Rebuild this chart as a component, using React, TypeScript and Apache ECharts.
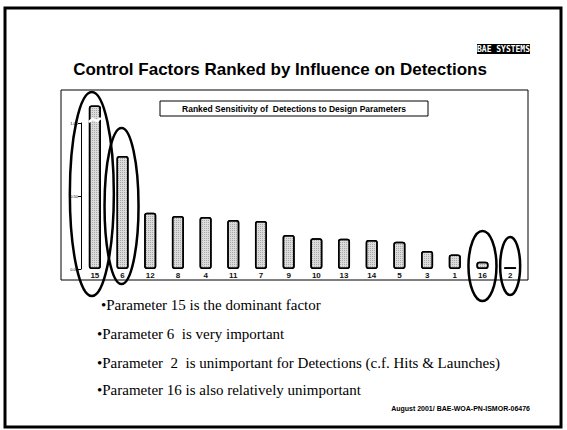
import React, { useEffect, useRef } from "react";
import * as echarts from "echarts";

const categories = ["15", "6", "12", "8", "4", "11", "7", "9", "10", "13", "14", "5", "3", "1", "16", "2"];
const sensitivity = [1.12, 0.774, 0.386, 0.363, 0.356, 0.336, 0.329, 0.233, 0.21, 0.208, 0.199, 0.187, 0.123, 0.1, 0.05, 0.012];
const yTicks = [0, 0.5, 1.0];
const circled = ["15", "6", "16", "2"];
const bullets = [
  "•Parameter 15 is the dominant factor",
  "•Parameter 6  is very important",
  "•Parameter  2  is unimportant for Detections (c.f. Hits & Launches)",
  "•Parameter 16 is also relatively unimportant",
];
const slideTitle = "Control Factors Ranked by Influence on Detections";
const chartTitle = "Ranked Sensitivity of  Detections to Design Parameters";
const footer = "August 2001/ BAE-WOA-PN-ISMOR-06476";
const logoText = "BAE SYSTEMS";

export default function App() {
  const ref = useRef<HTMLDivElement>(null);
  useEffect(() => {
    document.body.style.margin = "0";
    const chart = echarts.init(ref.current!, null, { renderer: "svg" });
    chart.setOption({
      animation: false,
      grid: { left: 81, right: 43, top: 123, bottom: 161 },
      xAxis: {
        type: "category",
        data: categories,
        axisLine: { show: false },
        axisTick: { show: false },
        axisLabel: { margin: 2, fontSize: 8, fontWeight: "bold", color: "#111", fontFamily: "Liberation Sans" },
      },
      yAxis: {
        type: "value",
        min: yTicks[0],
        max: yTicks[yTicks.length - 1],
        interval: 0.5,
        axisLine: { show: true, lineStyle: { color: "#000", width: 1 } },
        axisTick: { show: true, inside: false, length: 3, lineStyle: { color: "#000" } },
        splitLine: { show: false },
        axisLabel: { fontSize: 4, margin: 3, color: "#000", formatter: (v: number) => v.toFixed(2) },
      },
      series: [
        {
          type: "bar",
          data: sensitivity,
          barWidth: 12,
          clip: false,
          itemStyle: {
            color: "#dcdcdc",
            borderColor: "#000",
            borderWidth: 1.5,
            borderRadius: 2,
            decal: {
              symbol: "rect",
              symbolSize: 1,
              dashArrayX: [1, 1],
              dashArrayY: [1, 1],
              color: "rgba(70,70,70,0.35)",
              backgroundColor: "#ececec",
            },
          },
        },
      ],
    });

    const px = (c: string) => chart.convertToPixel({ xAxisIndex: 0 }, c) as number;
    const py = (v: number) => chart.convertToPixel({ yAxisIndex: 0 }, v) as number;
    const ellSpec: Record<string, { dx: number; cy: number; rx: number; ry: number }> = {
      "15": { dx: -3, cy: 194, rx: 22, ry: 102 },
      "6": { dx: -1, cy: 206, rx: 17, ry: 78 },
      "16": { dx: 0, cy: 266, rx: 14, ry: 35 },
      "2": { dx: 0, cy: 266, rx: 10, ry: 29 },
    };
    const ellipses = circled.map((c) => ({
      type: "ellipse",
      shape: { cx: px(c) + ellSpec[c].dx, cy: ellSpec[c].cy, rx: ellSpec[c].rx, ry: ellSpec[c].ry },
      style: { fill: "none", stroke: "#000", lineWidth: 2.5 },
      z: 100,
    }));
    const bx = px("15");
    const by = py(1.0) - 3;
    const breakMark = {
      type: "polyline",
      shape: { points: [[bx - 6, by + 2], [bx - 2, by - 1], [bx + 2, by + 1], [bx + 6, by - 2]] },
      style: { stroke: "#fff", lineWidth: 2.5, fill: "none" },
      z: 90,
    };

    chart.setOption({
      graphic: [
        { type: "rect", shape: { x: 5, y: 8, width: 556, height: 419 }, style: { fill: "none", stroke: "#000", lineWidth: 3 } },
        { type: "rect", shape: { x: 61, y: 90, width: 467, height: 190 }, style: { fill: "none", stroke: "#000", lineWidth: 1 }, z: 50 },
        { type: "rect", shape: { x: 160, y: 101, width: 268, height: 15 }, style: { fill: "#fff", stroke: "#000", lineWidth: 1 } },
        { type: "text", x: 294, y: 108.5, style: { text: chartTitle, font: "bold 8.5px 'Liberation Sans'", fill: "#000", align: "center", verticalAlign: "middle" } },
        { type: "text", x: 280, y: 69, style: { text: slideTitle, font: "bold 17px 'Liberation Sans'", fill: "#000", align: "center", verticalAlign: "middle" } },
        { type: "rect", shape: { x: 477, y: 44, width: 53, height: 10 }, style: { fill: "#000" } },
        { type: "text", x: 503.5, y: 49, style: { text: logoText, font: "bold 8px 'DejaVu Sans Mono'", fill: "#fff", align: "center", verticalAlign: "middle" } },
        ...bullets.map((b, i) => ({
          type: "text",
          x: i === 0 ? 101 : 97,
          y: [305, 334, 363, 390][i],
          style: { text: b, font: "15px 'Liberation Serif'", fill: "#000", verticalAlign: "middle" },
        })),
        { type: "text", x: 530, y: 408, style: { text: footer, font: "bold 7px 'Liberation Sans'", fill: "#000", align: "right", verticalAlign: "middle" } },
        breakMark,
        ...ellipses,
      ],
    });
    return () => chart.dispose();
  }, []);
  return <div ref={ref} style={{ width: 567, height: 430, position: "absolute", left: 0, top: 0 }} />;
}
